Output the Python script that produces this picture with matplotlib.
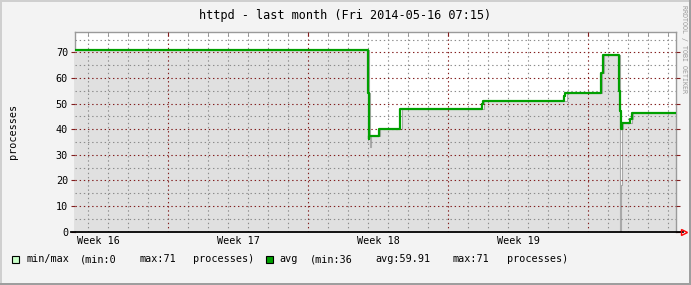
import numpy as np
import matplotlib
matplotlib.use('Agg')
import matplotlib.pyplot as plt
from matplotlib.patches import Rectangle
from matplotlib.ticker import MultipleLocator

plt.rcParams['font.family'] = 'DejaVu Sans Mono'
plt.rcParams['lines.scale_dashes'] = False

# time axis: days since Mon 2014-04-21 00:00 (start of week 17)
t_start = -4.66
t_end = 25.38

avg_t = [-4.66, 9.97, 10.03, 10.06, 10.54, 11.59, 15.68, 15.73, 19.78, 19.84,
         21.64, 21.72, 22.51, 22.57, 22.62, 22.69, 23.09, 23.18]
avg_v = [71, 54, 36, 37.5, 40, 48, 50, 51, 53, 54,
         62, 69, 55, 47, 40, 42.5, 44, 46.3]

min_t = [-4.66, 10.02, 10.08, 10.12, 10.6, 11.66, 15.8, 19.92, 21.7, 21.8,
         22.56, 22.6, 22.62, 22.65, 22.69, 22.75, 23.16, 23.25]
min_v = [71, 54, 33, 37.5, 40, 48, 51, 54, 62, 69,
         18, 0, 18, 18, 40, 42.5, 44, 46.3]

week_labels = ['Week 16', 'Week 17', 'Week 18', 'Week 19']
week_starts = [-7, 0, 7, 14]

title = 'httpd - last month (Fri 2014-05-16 07:15)'
legend_texts = [('min/max', 26.7), ('(min:0', 80), ('max:71', 139), ('processes)', 193),
                ('avg', 279), ('(min:36', 310), ('avg:59.91', 375), ('max:71', 452.7),
                ('processes)', 506.7)]


def step_at(ts, vs, grid):
    idx = np.searchsorted(ts, grid, side='right') - 1
    return np.asarray(vs, dtype=float)[np.clip(idx, 0, len(vs) - 1)]


W, H = 691, 285
fig = plt.figure(figsize=(W / 100, H / 100), dpi=100, facecolor='#f3f3f3')
ax = fig.add_axes([75 / W, 1 - 231.5 / H, 601 / W, 200 / H])
ax.set_facecolor('white')
ax.set_xlim(t_start, t_end)
ax.set_ylim(0, 78.2)

grid = np.array(sorted(set(avg_t + min_t + [t_end])))
lo = step_at(min_t, min_v, grid)
hi = step_at(avg_t, avg_v, grid)

ax.fill_between(grid, 0, lo, step='post', color='#e0e0e0', lw=0, zorder=1)
ax.fill_between(grid, lo, np.maximum(hi, 40), where=lo < 20, step='post',
                color='#c8ffc8', lw=0, zorder=1.1)
ax.step(grid, lo, where='post', color='#a8a8a8', lw=0.8, zorder=1.2)
ax.step(grid, hi, where='post', color='#00a000', lw=1.6, zorder=3)

ax.set_axisbelow(False)
ax.xaxis.set_major_locator(MultipleLocator(7))
ax.xaxis.set_minor_locator(MultipleLocator(1))
ax.yaxis.set_major_locator(MultipleLocator(10))
ax.yaxis.set_minor_locator(MultipleLocator(5))
ax.grid(which='major', color='#821e1e', ls=(0, (1, 2)), lw=0.8)
ax.grid(which='minor', color='#8c8c8c', ls=(0, (1, 2)), lw=0.8)

ax.tick_params(axis='x', which='major', bottom=False, labelbottom=False, top=True,
               direction='in', length=3, color='#821e1e')
ax.tick_params(axis='x', which='minor', bottom=False, top=True, direction='in',
               length=3, color='#8c8c8c')
ax.tick_params(axis='y', which='major', left=True, right=True, direction='out',
               length=3, color='#821e1e', labelsize=7.3, pad=2)
ax.tick_params(axis='y', which='minor', left=False, right=False)

for s in ['top', 'left', 'right']:
    ax.spines[s].set_color('#9a9a9a')
    ax.spines[s].set_linewidth(1)
ax.spines['left'].set_zorder(0.5)
ax.spines['bottom'].set_visible(False)

# x axis line with arrow
ax.plot([-0.006, 1.012], [0, 0], transform=ax.transAxes, color='black', lw=1.3,
        clip_on=False, zorder=4)
ax.plot([1.014], [0], marker='>', mfc='none', mec='red', ms=5, mew=1,
        transform=ax.transAxes, clip_on=False, zorder=5)

sec = ax.secondary_xaxis('bottom')
sec.set_xticks([w + 3.5 for w in week_starts], labels=week_labels)
sec.tick_params(length=0, labelsize=7.3, pad=3.5)
sec.spines['bottom'].set_visible(False)

fig.text(345 / W, 1 - 15 / H, title, ha='center', va='center', fontsize=8.6)
fig.text(13.5 / W, 1 - 131 / H, 'processes', rotation=90, ha='center', va='center',
         fontsize=7.3)
fig.text(684 / W, 1 - 5 / H, 'RRDTOOL / TOBI OETIKER', rotation=270, ha='center',
         va='top', fontsize=4.8, color='#999999')

ly = 1 - 259 / H
for txt, x in legend_texts:
    fig.text(x / W, ly, txt, ha='left', va='center', fontsize=7.3)
fig.patches.append(Rectangle((11.5 / W, 1 - 262.5 / H), 7 / W, 7 / H,
                             transform=fig.transFigure, fc='#c8ffc8', ec='black', lw=0.8))
fig.patches.append(Rectangle((265.5 / W, 1 - 262.5 / H), 7 / W, 7 / H,
                             transform=fig.transFigure, fc='#00a000', ec='black', lw=0.8))

# frame shading
fig.patches.append(Rectangle((0, 0), 2 / W, 1, transform=fig.transFigure, fc='#cfcfcf', lw=0))
fig.patches.append(Rectangle((0, 1 - 2 / H), 1, 2 / H, transform=fig.transFigure, fc='#cfcfcf', lw=0))
fig.patches.append(Rectangle((1 - 2 / W, 0), 2 / W, 1, transform=fig.transFigure, fc='#9e9e9e', lw=0))
fig.patches.append(Rectangle((0, 0), 1, 2 / H, transform=fig.transFigure, fc='#9e9e9e', lw=0))

fig.savefig('out.png', dpi=100, facecolor=fig.get_facecolor())
